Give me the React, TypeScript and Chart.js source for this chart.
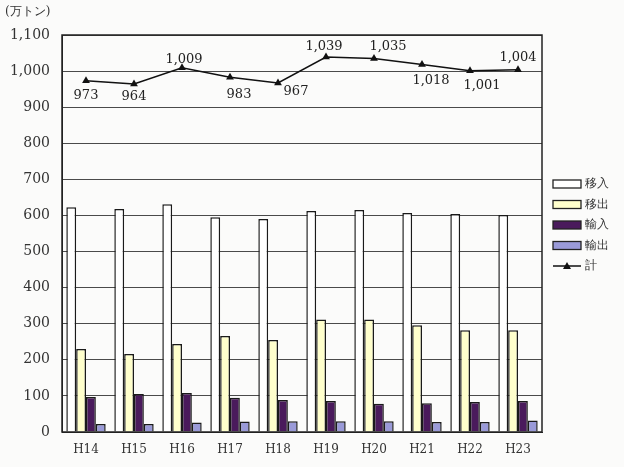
import React, { useEffect, useRef } from "react";
import { Chart, registerables } from "chart.js";

Chart.register(...registerables);

const categories = ["H14", "H15", "H16", "H17", "H18", "H19", "H20", "H21", "H22", "H23"];
const inbound = [623, 618, 631, 595, 590, 612, 615, 607, 604, 601];
const outbound = [230, 216, 244, 266, 255, 312, 312, 296, 282, 282];
const imports = [97, 105, 108, 95, 89, 86, 78, 80, 83, 86];
const exports = [22, 22, 26, 29, 30, 30, 30, 28, 28, 32];
const totals = [973, 964, 1009, 983, 967, 1039, 1035, 1018, 1001, 1004];
const seriesNames = ["移入", "移出", "輸入", "輸出", "計"];
const unitLabel = "(万トン)";

// label offsets (style): [dx, dy] per point
const labelOffsets = [
  [0, 15], [0, 13], [2, -8], [9, 17], [18, 9],
  [-2, -10], [14, -12], [9, 16], [12, 15], [0, -12],
];

const FONT = "'DejaVu Serif', 'Liberation Serif', serif";

const fmt = (v: number) => v.toLocaleString("en-US");

const extrasPlugin = {
  id: "extras",
  afterDatasetsDraw(chart: any) {
    const ctx = chart.ctx;
    const area = chart.chartArea;
    const meta = chart.getDatasetMeta(4);
    ctx.save();
    ctx.font = `13px ${FONT}`;
    ctx.fillStyle = "#222";
    ctx.textAlign = "center";
    ctx.textBaseline = "middle";
    meta.data.forEach((pt: any, i: number) => {
      const [dx, dy] = labelOffsets[i];
      ctx.fillText(fmt(totals[i]), pt.x + dx, pt.y + dy);
    });
    ctx.strokeStyle = "#222";
    ctx.lineWidth = 1.5;
    ctx.strokeRect(area.left, area.top, area.right - area.left, area.bottom - area.top);
    ctx.font = `12px ${FONT}`;
    ctx.textAlign = "left";
    ctx.fillStyle = "#333";
    ctx.fillText(unitLabel, 5, area.top - 23);
    const lx = area.right + 11;
    const ly0 = area.top + 149;
    const step = 20.5;
    const fills = ["#ffffff", "#ffffcc", "#4a1a5c", "#9a9ad8"];
    ctx.font = `12px ${FONT}`;
    ctx.textBaseline = "middle";
    for (let i = 0; i < 5; i++) {
      const y = ly0 + i * step;
      if (i < 4) {
        ctx.fillStyle = fills[i];
        ctx.fillRect(lx, y - 4, 28, 8);
        ctx.strokeStyle = "#222";
        ctx.lineWidth = 1.3;
        ctx.strokeRect(lx, y - 4, 28, 8);
      } else {
        ctx.strokeStyle = "#111";
        ctx.lineWidth = 1.5;
        ctx.beginPath();
        ctx.moveTo(lx, y);
        ctx.lineTo(lx + 28, y);
        ctx.stroke();
        ctx.fillStyle = "#111";
        ctx.beginPath();
        ctx.moveTo(lx + 14, y - 4);
        ctx.lineTo(lx + 18, y + 3);
        ctx.lineTo(lx + 10, y + 3);
        ctx.closePath();
        ctx.fill();
      }
      ctx.fillStyle = "#333";
      ctx.textAlign = "left";
      ctx.fillText(seriesNames[i], lx + 32, y);
    }
    ctx.restore();
  },
};

export default function App() {
  const ref = useRef<HTMLCanvasElement | null>(null);
  useEffect(() => {
    if (!ref.current) return;
    const barCommon = {
      borderColor: "#1a1a1a",
      borderWidth: 1.5,
      categoryPercentage: 0.82,
      barPercentage: 1.0,
      order: 1,
    };
    const chart = new Chart(ref.current, {
      type: "bar",
      data: {
        labels: categories,
        datasets: [
          { ...barCommon, type: "bar", label: seriesNames[0], data: inbound, backgroundColor: "#ffffff" },
          { ...barCommon, type: "bar", label: seriesNames[1], data: outbound, backgroundColor: "#ffffcc" },
          { ...barCommon, type: "bar", label: seriesNames[2], data: imports, backgroundColor: "#4a1a5c" },
          { ...barCommon, type: "bar", label: seriesNames[3], data: exports, backgroundColor: "#9a9ad8" },
          {
            type: "line",
            label: seriesNames[4],
            data: totals,
            borderColor: "#111",
            borderWidth: 1.5,
            backgroundColor: "#111",
            pointStyle: "triangle",
            pointRadius: 4.5,
            pointBorderWidth: 0,
            order: 0,
          } as any,
        ],
      },
      options: {
        animation: false,
        responsive: false,
        maintainAspectRatio: false,
        layout: { padding: { left: 0, right: 82, top: 35, bottom: 0 } },
        plugins: { legend: { display: false }, tooltip: { enabled: false } },
        scales: {
          x: {
            grid: { display: false, drawTicks: false },
            border: { color: "#222" },
            ticks: { color: "#333", font: { family: FONT, size: 12 }, padding: 11 },
            afterFit: (scale: any) => { scale.height = 35; },
          },
          y: {
            min: 0,
            max: 1100,
            ticks: {
              stepSize: 100,
              color: "#333",
              font: { family: FONT, size: 14 },
              padding: 12,
              callback: (v: any) => fmt(Number(v)),
            },
            grid: { color: "#4a4a4a", lineWidth: 1, drawTicks: false },
            border: { color: "#222" },
            afterFit: (scale: any) => { scale.width = 62; },
          },
        },
      },
      plugins: [extrasPlugin],
    } as any);
    return () => chart.destroy();
  }, []);
  return (
    <div style={{ position: "fixed", left: 0, top: 0, width: 624, height: 467, background: "#fbfbfa" }}>
      <canvas ref={ref} width={624} height={467} style={{ display: "block" }} />
    </div>
  );
}
